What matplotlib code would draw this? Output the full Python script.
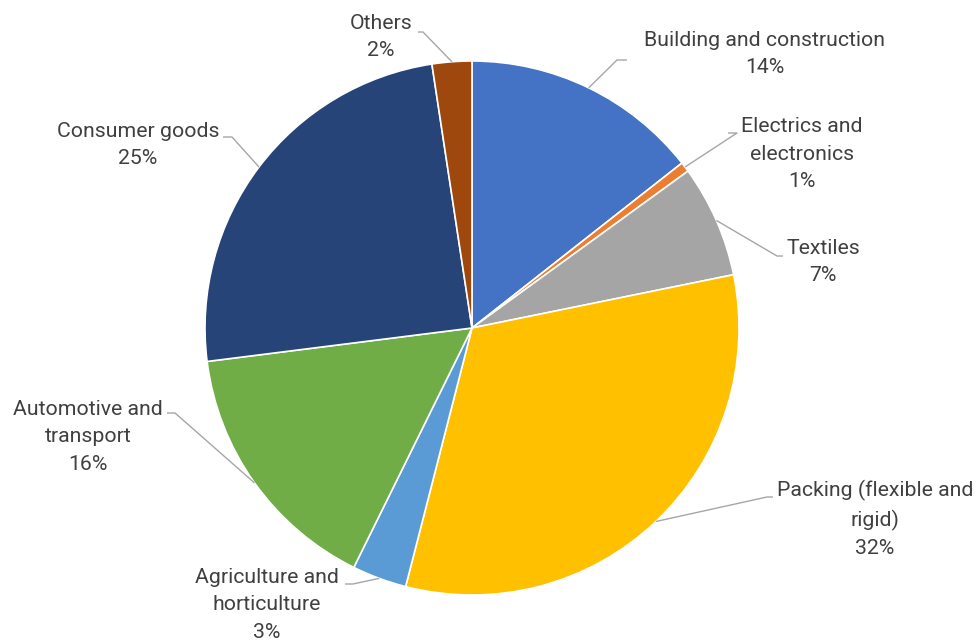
import numpy as np
import matplotlib
matplotlib.use("Agg")
import matplotlib.pyplot as plt

# Plastic consumption by sector (share, %)
sectors = [
    "Building and construction",
    "Electrics and\nelectronics",
    "Textiles",
    "Packing (flexible and\nrigid)",
    "Agriculture and\nhorticulture",
    "Automotive and\ntransport",
    "Consumer goods",
    "Others",
]
shares = [14.4, 0.6, 6.8, 32.2, 3.3, 15.7, 24.6, 2.4]
colors = ["#4472C4", "#ED7D31", "#A5A5A5", "#FFC000",
          "#5B9BD5", "#70AD47", "#264478", "#9E480E"]

W, H = 979, 641
fig = plt.figure(figsize=(W / 100, H / 100), dpi=100)
ax = fig.add_axes([0, 0, 1, 1])

def py(y):
    """Convert a top-down pixel row to data y."""
    return H - y

cx, cy, R = 472, py(328), 267
wedges, _ = ax.pie(shares, colors=colors, startangle=90, counterclock=False,
                   center=(cx, cy), radius=R, frame=True,
                   wedgeprops=dict(edgecolor="white", linewidth=1.2))
ax.set_xlim(0, W)
ax.set_ylim(0, H)
ax.set_aspect("equal")
ax.axis("off")

# label block centre (x, y from top) and leader-line elbow (start, end of short horizontal)
label_pos = [
    (765, 54, (617, 60), (627, 60)),
    (802, 154, (737, 133), (728, 133)),
    (823, 262, (777, 256), (783, 256)),
    (875, 519, (767, 497), (773, 497)),
    (267, 605, (353, 584), (345, 584)),
    (88, 437, (175, 413), (167, 413)),
    (138, 145, (232, 137), (223, 137)),
    (381, 37, (423, 32), (418, 32)),
]

txt_color = "#404040"
line_color = "#A6A6A6"
total = sum(shares)
for w, name, val, (tx, ty, e1, e2) in zip(wedges, sectors, shares, label_pos):
    mid = np.deg2rad((w.theta1 + w.theta2) / 2)
    ex, ey = cx + R * np.cos(mid), cy + R * np.sin(mid)
    ax.plot([ex, e1[0], e2[0]], [ey, py(e1[1]), py(e2[1])],
            color=line_color, lw=1.0, solid_capstyle="butt", zorder=3)
    pct = f"{round(val / total * 100):.0f}%"
    ax.text(tx, py(ty), f"{name}\n{pct}", ha="center", va="center",
            multialignment="center", fontsize=15.3, family=["Roboto", "DejaVu Sans"],
            color=txt_color, linespacing=1.55)

fig.savefig("out.png", dpi=100, facecolor="white")
